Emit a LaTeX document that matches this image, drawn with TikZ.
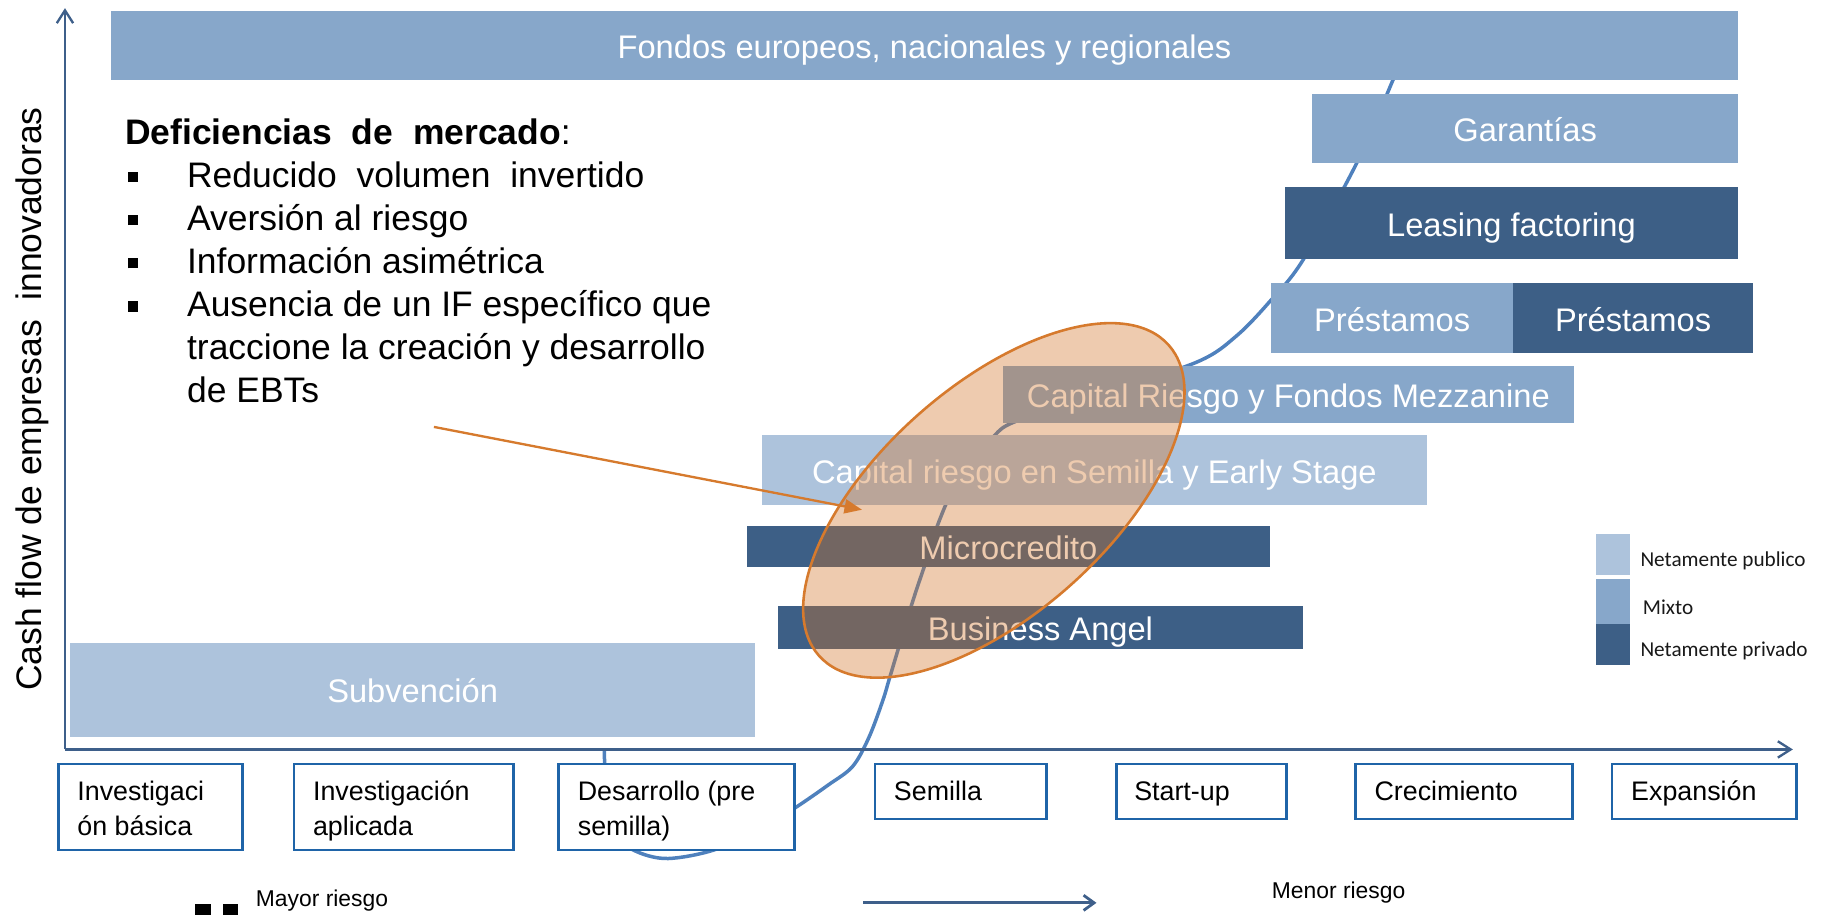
\documentclass[tikz,border=0pt]{standalone}
\usepackage{fontspec}
\setmainfont{Liberation Sans}
\newfontfamily\calib{Carlito}
\usetikzlibrary{shapes.geometric,arrows.meta}
\definecolor{cLight}{HTML}{ADC3DC}
\definecolor{cMid}{HTML}{87A7CA}
\definecolor{cDark}{HTML}{3D5F86}
\definecolor{cAxis}{HTML}{3E5F8A}
\definecolor{cCurve}{HTML}{4F81BD}
\definecolor{cBox}{HTML}{1F64A8}
\definecolor{cOrange}{HTML}{D67A2D}
\definecolor{cFill}{HTML}{D17427}
\begin{document}
\begin{tikzpicture}[x=0.5pt,y=-0.5pt,
  bar/.style={rectangle, inner sep=0pt, text=white, font=\fontsize{14pt}{16pt}\selectfont, text height=12.6pt, text depth=1.4pt},
  stagebox/.style={rectangle, draw=cBox, line width=1.1pt, fill=white, inner sep=0pt},
  stagetxt/.style={anchor=base west, inner sep=0pt, font=\fontsize{11.5pt}{14pt}\selectfont},
  legbox/.style={rectangle, inner sep=0pt, minimum width=14.3pt},
  legtxt/.style={anchor=base west, inner sep=0pt, font=\calib\fontsize{9.1pt}{11pt}\selectfont, text=black!90},
  deftxt/.style={anchor=base west, inner sep=0pt, font=\fontsize{15.2pt}{18pt}\selectfont},
  axisline/.style={draw=cAxis, line width=1pt, -{Straight Barb[length=5.5pt,width=7pt]}},
  curveline/.style={draw=cCurve, line width=1.5pt},
  riskline/.style={draw=cAxis, line width=1.2pt, -{Straight Barb[length=4.5pt,width=6.5pt]}},
  riesgo/.style={anchor=base west, inner sep=0pt, font=\fontsize{9.8pt}{12pt}\selectfont}
]
\useasboundingbox (0,0) rectangle (1568,784.4);
\fill[white] (0,0) rectangle (1568,784.4);

% S-curve
\draw[curveline] plot[smooth, tension=0.55] coordinates {(518,642) (521,690) (533,720) (548,731) (573,736) (611,729) (650,712) (681,693) (710,673) (731,657) (745,632) (757,600) (763,580) (782,517) (795,478) (805,447) (820,415) (851,375) (874,360) (950,336) (1027,310) (1060,288) (1089,258) (1117,223) (1163,140) (1194,69) (1210,30)};

% bars
\node[bar, fill=cMid, minimum width=697.5pt, minimum height=29.8pt] (fondos) at (792.5,39.2) {Fondos europeos, nacionales y regionales};
\node[bar, fill=cMid, minimum width=182.5pt, minimum height=29.7pt] (garant) at (1307.5,110.3) {Garantías};
\node[bar, fill=cDark, minimum width=194.2pt, minimum height=30.75pt] (leasing) at (1295.8,191.25) {Leasing factoring};
\node[bar, fill=cMid, minimum width=103.5pt, minimum height=29.7pt] (prestA) at (1193.5,272.7) {Préstamos};
\node[bar, fill=cDark, minimum width=103pt, minimum height=29.7pt] (prestB) at (1400,272.7) {Préstamos};
\node[bar, fill=cMid, minimum width=244.5pt, minimum height=24.3pt] (mezz) at (1104.5,338) {Capital Riesgo y Fondos Mezzanine};
\node[bar, fill=cLight, minimum width=284.75pt, minimum height=30pt] (semcap) at (938.25,403) {Capital riesgo en Semilla y Early Stage};
\node[bar, fill=cDark, minimum width=224pt, minimum height=17.4pt] (micro) at (864.5,468.4) {Microcredito};
\node[bar, fill=cDark, minimum width=225pt, minimum height=18.2pt] (angel) at (892,537.8) {Business Angel};
\node[bar, fill=cLight, minimum width=293.75pt, minimum height=40.25pt] (subv) at (353.75,591.25) {Subvención};

% legend
\node[legbox, fill=cLight, minimum height=17.6pt] (lg1) at (1382.9,475.3) {};
\node[legbox, fill=cMid, minimum height=19.3pt] (lg2) at (1382.9,515.6) {};
\node[legbox, fill=cDark, minimum height=17.55pt] (lg3) at (1382.9,552.45) {};
\node[legtxt] (lt1) at (1406,485.7) {Netamente\ publico};
\node[legtxt] (lt2) at (1408,527) {Mixto};
\node[legtxt] (lt3) at (1406,563) {Netamente\ privado};

% stage boxes
\node[stagebox, minimum width=79pt, minimum height=36.8pt] (s1) at (129,691.8) {};
\node[stagebox, minimum width=94pt, minimum height=36.8pt] (s2) at (346,691.8) {};
\node[stagebox, minimum width=101pt, minimum height=36.8pt] (s3) at (580,691.8) {};
\node[stagebox, minimum width=73.5pt, minimum height=23.5pt] (s4) at (823.5,678.5) {};
\node[stagebox, minimum width=73pt, minimum height=23.5pt] (s5) at (1030,678.5) {};
\node[stagebox, minimum width=93pt, minimum height=23.5pt] (s6) at (1255,678.5) {};
\node[stagebox, minimum width=79pt, minimum height=23.5pt] (s7) at (1461,678.5) {};
\node[stagetxt] (t1a) at (66,686) {Investigaci};
\node[stagetxt] (t1b) at (66,716) {ón básica};
\node[stagetxt] (t2a) at (268,686) {Investigación};
\node[stagetxt] (t2b) at (268,716) {aplicada};
\node[stagetxt] (t3a) at (495,686) {Desarrollo (pre};
\node[stagetxt] (t3b) at (495,716) {semilla)};
\node[stagetxt] (t4) at (766,686) {Semilla};
\node[stagetxt] (t5) at (972,686) {Start-up};
\node[stagetxt] (t6) at (1178,686) {Crecimiento};
\node[stagetxt] (t7) at (1398,686) {Expansión};

% axes
\coordinate (O) at (55.7,642.5);
\coordinate (Ytop) at (55.7,7);
\coordinate (Xend) at (1537,642.5);
\draw[axisline] (O) -- (Ytop);
\draw[axisline] (O) -- (Xend);
\node[rotate=90, anchor=base, inner sep=0pt, font=\fontsize{15.2pt}{18pt}\selectfont] (ylab) at (36,342) {Cash flow de empresas\ \ innovadoras};

% market deficiencies text
\newcommand{\sqbul}{\makebox[26.5pt][l]{\hspace{1pt}\raisebox{2.2pt}{\rule{4.4pt}{4.4pt}}}}
\node[deftxt] (d0) at (107,123.5) {\textbf{Deficiencias\ \ de\ \ mercado}:};
\node[deftxt] (d1) at (107,160.5) {\sqbul Reducido\ \ volumen\ \ invertido};
\node[deftxt] (d2) at (107,197.5) {\sqbul Aversión al riesgo};
\node[deftxt] (d3) at (107,234.5) {\sqbul Información asimétrica};
\node[deftxt] (d4) at (107,271.5) {\sqbul Ausencia de un IF específico que};
\node[deftxt] (d5) at (160,308.5) {traccione\ la creación\ y desarrollo};
\node[deftxt] (d6) at (160,345) {de EBTs};

% gap ellipse
\node[ellipse, draw=cOrange, line width=1.1pt, fill=cFill, fill opacity=0.37, draw opacity=1, minimum width=200.5pt, minimum height=98pt, inner sep=0pt, rotate=41.6] (gap) at (852,429) {};
\coordinate (arrS) at (372,366);
\coordinate (arrE) at (739,437);
\draw[draw=cOrange, line width=1pt, -{Triangle[length=7.5pt,width=6pt]}, fill=cOrange] (arrS) -- (arrE);

% risk
\node[riesgo] (mayor) at (219,777) {Mayor riesgo};
\node[riesgo] (menor) at (1090,770) {Menor riesgo};
\coordinate (r1) at (740,774);
\coordinate (r2) at (940,774);
\draw[riskline] (r1) -- (r2);
\fill[black] (167,775) rectangle (181,784.4);
\fill[black] (191,775) rectangle (204,784.4);
\end{tikzpicture}
\end{document}
